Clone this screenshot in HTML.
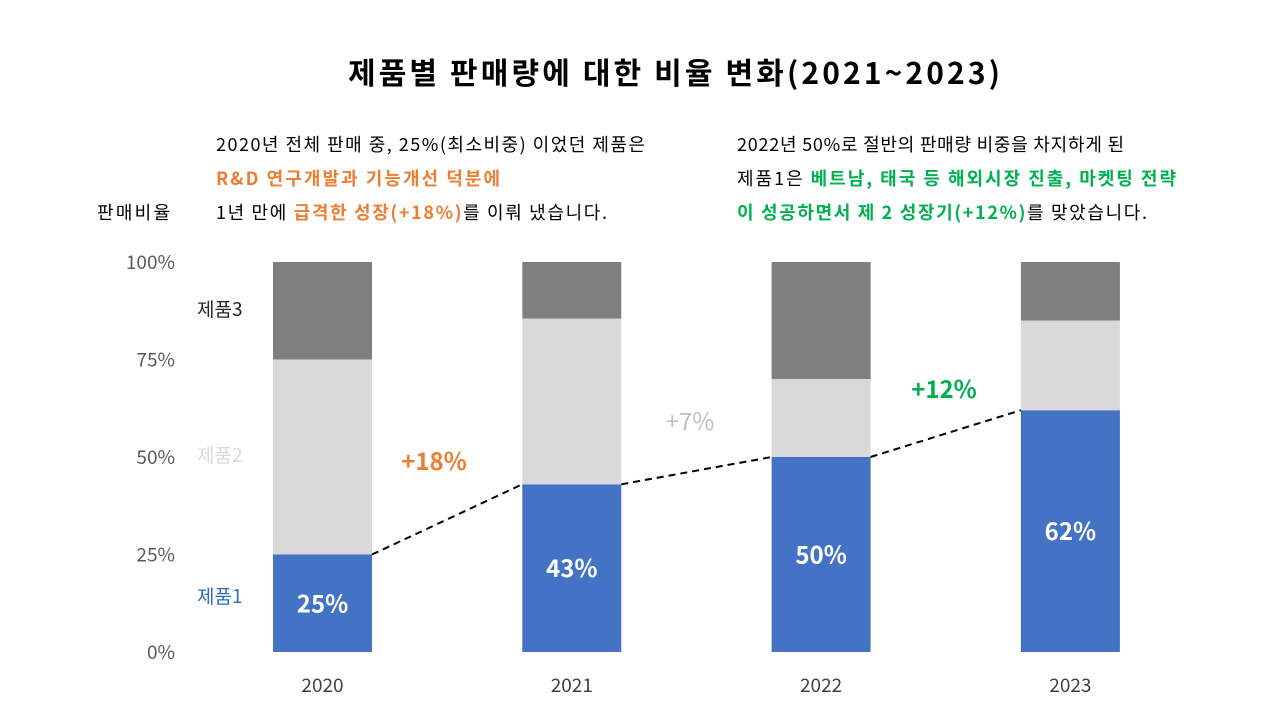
<!DOCTYPE html>
<html><head><meta charset="utf-8">
<style>
body{margin:0;width:1280px;height:720px;background:#fff;overflow:hidden;font-family:"Noto Sans CJK KR","Liberation Sans",sans-serif;}
svg text{font-family:"Noto Sans CJK KR","Liberation Sans",sans-serif;}
</style></head>
<body>
<svg id="chart" width="1280" height="720">
<text x="348" y="84" textLength="652" lengthAdjust="spacing" font-size="30" font-weight="bold" fill="#000">제품별 판매량에 대한 비율 변화(2021~2023)</text>
<g font-size="18">
<text x="216" y="151" textLength="429" lengthAdjust="spacing" fill="#000">2020년 전체 판매 중, 25%(최소비중) 이었던 제품은</text>
<text x="216" y="185" textLength="284" lengthAdjust="spacing" fill="#ED7D31" font-weight="bold">R&amp;D 연구개발과 기능개선 덕분에</text>
<text x="216" y="219" textLength="391" lengthAdjust="spacing" fill="#000">1년 만에 <tspan fill="#ED7D31" font-weight="bold">급격한 성장(+18%)</tspan>를 이뤄 냈습니다.</text>
</g>
<g font-size="18">
<text x="737" y="151" textLength="387" lengthAdjust="spacing" fill="#000">2022년 50%로 절반의 판매량 비중을 차지하게 된</text>
<text x="737" y="185" textLength="439" lengthAdjust="spacing" fill="#000">제품1은 <tspan fill="#00B050" font-weight="bold">베트남, 태국 등 해외시장 진출, 마켓팅 전략</tspan></text>
<text x="737" y="219" textLength="410" lengthAdjust="spacing" fill="#00B050" font-weight="bold">이 성공하면서 제 2 성장기(+12%)<tspan fill="#000" font-weight="normal">를 맞았습니다.</tspan></text>
</g>
<text x="97" y="219" textLength="73" lengthAdjust="spacing" font-size="18" fill="#000">판매비율</text>
<text x="197" y="316" font-size="19" fill="#262626">제품3</text>
<text x="197" y="462" font-size="19" fill="#D9D9D9">제품2</text>
<text x="197" y="603" font-size="19" fill="#2E6EBF">제품1</text>
<g id="plot"></g>
<text x="434" y="470" font-size="24" font-weight="bold" fill="#ED7D31" text-anchor="middle">+18%</text>
<text x="690" y="430" font-size="24" fill="#BFBFBF" text-anchor="middle">+7%</text>
<text x="944" y="398" font-size="24" font-weight="bold" fill="#00B050" text-anchor="middle">+12%</text>
</svg>
<script>
const categories=["2020","2021","2022","2023"];
const product1=[25,43,50,62];
const product2=[50,42.5,20,23];
const product3=[25,14.5,30,15];
const yTicks=[0,25,50,75,100];
const NS="http://www.w3.org/2000/svg";
const g=document.getElementById('plot');
const y=v=>652-v*3.9;
const xc=i=>322.5+i*249.3;
const bw=99;
function el(t,a){const e=document.createElementNS(NS,t);for(const k in a)e.setAttribute(k,a[k]);g.appendChild(e);return e;}
yTicks.forEach(t=>{const e=el('text',{x:175,y:y(t)+7,'text-anchor':'end','font-size':19,fill:'#595959'});e.textContent=t+'%';

});
categories.forEach((c,i)=>{
 const x0=xc(i)-bw/2;
 const segs=[[0,product1[i],'#4472C4','product1'],[product1[i],product1[i]+product2[i],'#D9D9D9','product2'],[product1[i]+product2[i],product1[i]+product2[i]+product3[i],'#7F7F7F','product3']];
 segs.forEach(s=>{const r=el('rect',{x:x0,y:y(s[1]),width:bw,height:y(s[0])-y(s[1]),fill:s[2]});
 
 });
 const v=el('text',{x:xc(i),y:(y(0)+y(product1[i]))/2+9,'text-anchor':'middle','font-size':24,'font-weight':'bold',fill:'#fff'});
 v.textContent=product1[i]+'%';
 
 
 const l=el('text',{x:xc(i),y:692,'text-anchor':'middle','font-size':19,fill:'#404040'});l.textContent=c;
 
 
 if(i<categories.length-1){
  const ln=el('line',{x1:x0+bw,y1:y(product1[i]),x2:xc(i+1)-bw/2,y2:y(product1[i+1]),stroke:'#000','stroke-width':2,'stroke-dasharray':'7,5'});
  
  
 }
});
</script>
</body></html>
